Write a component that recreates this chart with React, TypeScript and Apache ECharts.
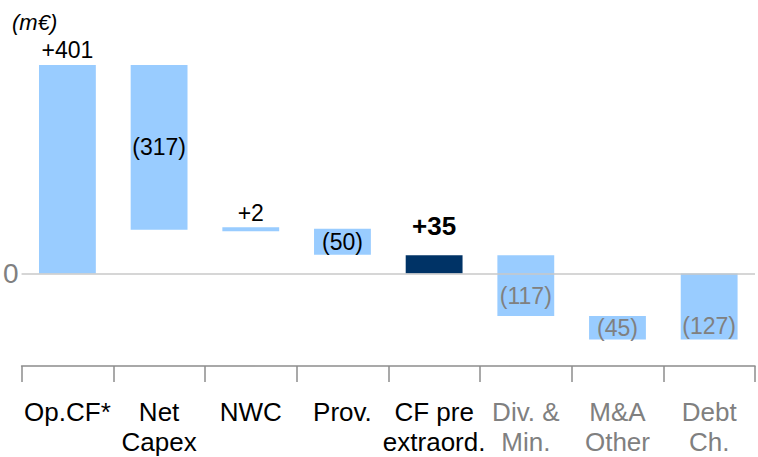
import React, { useEffect, useRef } from "react";
import * as echarts from "echarts";

// ---- data ----
const categories = ["Op.CF*", "Net\nCapex", "NWC", "Prov.", "CF pre\nextraord.", "Div. &\nMin.", "M&A\nOther", "Debt\nCh."];
const changes = [401, -317, 2, -50, 35, -117, -45, -127];
const isTotal = [false, false, false, false, true, false, false, true];
const yUnit = "(m€)";

// ---- styles ----
const FONT = "'Liberation Sans', Arial, Helvetica, sans-serif";
const LIGHT = "#99ccff";
const DARK = "#003366";
const BLACK = "#000000";
const GREY = "#808080";
const barColors = [LIGHT, LIGHT, LIGHT, LIGHT, DARK, LIGHT, LIGHT, LIGHT];
const textColors = [BLACK, BLACK, BLACK, BLACK, BLACK, GREY, GREY, GREY];
const labelBold = [false, false, false, false, true, false, false, false];
const labelDy = [-3, 0, -3, 0, -16, 10, 0, 20];

function buildRanges() {
  let run = 0;
  return changes.map((v, i) => {
    let lo: number, hi: number;
    if (isTotal[i]) {
      lo = Math.min(0, v);
      hi = Math.max(0, v);
      run = v;
    } else {
      const start = run;
      const end = run + v;
      lo = Math.min(start, end);
      hi = Math.max(start, end);
      run = end;
    }
    return [i, lo, hi, v];
  });
}

function fmt(v: number) {
  return v > 0 ? "+" + v : "(" + -v + ")";
}

export default function App() {
  const ref = useRef<HTMLDivElement>(null);
  useEffect(() => {
    const chart = echarts.init(ref.current!, null, { renderer: "svg" });
    const data = buildRanges();
    const option: any = {
      animation: false,
      backgroundColor: "#ffffff",
      textStyle: { fontFamily: FONT },
      grid: { left: 21, right: 3, top: 16, bottom: 90, containLabel: false },
      graphic: [
        {
          type: "text",
          left: 12,
          top: 11,
          style: { text: yUnit, fontSize: 22, fontStyle: "italic", fontFamily: FONT, fill: BLACK },
        },
      ],
      xAxis: [
        {
          type: "category",
          data: categories,
          position: "bottom",
          axisLine: { onZero: false, lineStyle: { color: "#8c8c8c", width: 1.5 } },
          axisTick: { show: true, length: 16, lineStyle: { color: "#8c8c8c", width: 1.5 } },
          axisLabel: {
            interval: 0,
            fontSize: 26,
            lineHeight: 30,
            margin: 31,
            fontFamily: FONT,
            color: (_v: any, idx: number) => textColors[idx],
          },
          splitLine: { show: false },
        },
      ],
      yAxis: {
        type: "value",
        min: -178,
        max: 495,
        axisLine: { show: false },
        axisTick: { show: false },
        splitLine: { show: false },
        axisLabel: {
          formatter: (v: number) => (v === 0 ? "0" : ""),
          color: GREY,
          fontSize: 28,
          margin: 3,
          fontFamily: FONT,
        },
      },
      series: [
        {
          type: "line",
          data: categories.map(() => null),
          silent: true,
          markLine: {
            silent: true,
            symbol: ["none", "none"],
            label: { show: false },
            lineStyle: { color: "#c8c8c8", width: 1.5, type: "solid" },
            data: [{ yAxis: 0 }],
          },
        },
        {
          type: "custom",
          data,
          encode: { x: 0, y: [1, 2] },
          clip: false,
          renderItem: (params: any, api: any) => {
            const i = params.dataIndex;
            const lo = api.value(1);
            const hi = api.value(2);
            const v = api.value(3);
            const pHi = api.coord([i, hi]);
            const pLo = api.coord([i, lo]);
            const w = api.size([1, 0])[0] * 0.62;
            let top = pHi[1];
            let h = pLo[1] - pHi[1];
            if (h < 4) {
              const mid = (pHi[1] + pLo[1]) / 2;
              top = mid - 2;
              h = 4;
            }
            const cx = pHi[0];
            const positive = v > 0;
            const bold = labelBold[i];
            const label = {
              type: "text",
              x: cx,
              y: positive ? top + labelDy[i] : top + h / 2 + labelDy[i],
              style: {
                text: fmt(v),
                fill: textColors[i],
                fontSize: bold ? 26 : 23,
                fontWeight: bold ? "bold" : "normal",
                fontFamily: FONT,
                align: "center",
                verticalAlign: positive ? "bottom" : "middle",
              },
            };
            return {
              type: "group",
              children: [
                {
                  type: "rect",
                  shape: { x: cx - w / 2, y: top, width: w, height: h },
                  style: { fill: barColors[i] },
                },
                label,
              ],
            };
          },
        },
      ],
    };
    chart.setOption(option);
    return () => chart.dispose();
  }, []);
  return <div ref={ref} style={{ position: "absolute", left: 0, top: 0, width: 758, height: 457 }} />;
}
